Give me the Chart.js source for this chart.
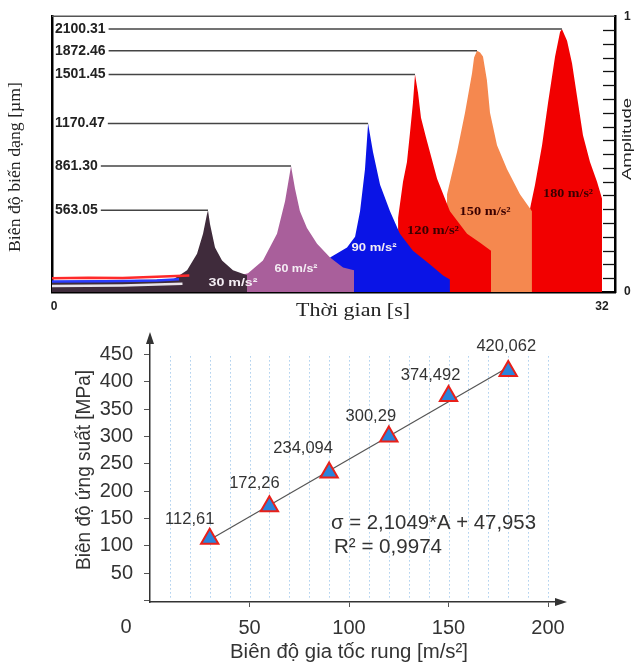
<!DOCTYPE html>
<html><head><meta charset="utf-8">
<script src="https://cdn.jsdelivr.net/npm/chart.js@4.4.1/dist/chart.umd.min.js"></script>
<style>
html,body{margin:0;padding:0;background:#fff;overflow:hidden}
#wrap{position:relative;width:636px;height:664px;background:#fff}
canvas{position:absolute;left:0}
</style>
</head><body>
<div id="wrap">
<canvas id="top" width="636" height="330" style="top:0"></canvas>
<canvas id="bot" width="636" height="346" style="top:318px"></canvas>
</div>
<script>
const peakLabels = ['563.05','861.30','1170.47','1501.45','1872.46','2100.31'];
const peakTimes  = [8.99, 13.84, 18.34, 21.08, 24.7, 29.66];
const peakAmps   = [0.296, 0.457, 0.611, 0.789, 0.875, 0.954];
const regionNames = ['30 m/s²','60 m/s²','90 m/s²','120 m/s²','150 m/s²','180 m/s²'];

const t30 = [-0.12, 6.95, 7.77, 8.35, 8.7, 8.93, 8.99, 9.11, 9.4, 9.81, 10.45, 11.27, 11.27];
const a30 = [0.04, 0.045, 0.079, 0.139, 0.211, 0.282, 0.296, 0.246, 0.161, 0.114, 0.079, 0.061, 0];
const t60 = [10.45, 10.45, 11.33, 12.2, 13.02, 13.49, 13.84, 14.07, 14.36, 14.77, 15.36, 16.12, 16.88, 17.52, 17.52];
const a60 = [0, 0.054, 0.068, 0.114, 0.211, 0.329, 0.457, 0.375, 0.293, 0.232, 0.175, 0.125, 0.089, 0.079, 0];
const t90 = [16.12, 16.12, 17.11, 17.58, 17.87, 18.16, 18.34, 18.63, 19.04, 19.62, 20.2, 20.96, 21.96, 22.72, 23.12, 23.12];
const a90 = [0, 0.125, 0.161, 0.2, 0.293, 0.446, 0.611, 0.507, 0.389, 0.293, 0.211, 0.15, 0.1, 0.06, 0.045, 0];
const t120 = [20.09, 20.09, 20.38, 20.61, 20.79, 20.96, 21.08, 21.26, 21.43, 21.72, 22.37, 23.12, 24.12, 24.88, 25.52, 25.52];
const a120 = [0, 0.268, 0.4, 0.471, 0.579, 0.686, 0.789, 0.721, 0.632, 0.561, 0.411, 0.293, 0.211, 0.179, 0.15, 0];
const t150 = [22.95, 22.95, 23.53, 24.0, 24.41, 24.53, 24.7, 24.88, 25.05, 25.28, 25.46, 25.87, 26.45, 27.21, 27.91, 27.91];
const a150 = [0, 0.354, 0.507, 0.65, 0.793, 0.85, 0.875, 0.868, 0.854, 0.768, 0.65, 0.532, 0.446, 0.354, 0.293, 0];
const t180 = [27.8, 27.8, 28.09, 28.5, 28.85, 29.26, 29.55, 29.66, 29.96, 30.25, 30.54, 30.89, 31.3, 31.71, 32.0, 32.0];
const a180 = [0, 0.304, 0.389, 0.532, 0.686, 0.854, 0.943, 0.954, 0.911, 0.829, 0.711, 0.568, 0.471, 0.4, 0.339, 0];
const tNoiseRed  = [-0.12, 2, 4, 6, 7.9];
const aNoiseRed  = [0.05, 0.052, 0.051, 0.055, 0.06];
const tNoiseBlue = [-0.12, 3, 6, 7.3];
const aNoiseBlue = [0.038, 0.039, 0.042, 0.046];
const tNoiseWhite = [-0.12, 4, 7.5];
const aNoiseWhite = [0.022, 0.024, 0.03];

// ===== BOTTOM PANEL DATA =====
const accel  = [30, 60, 90, 120, 150, 180];
const stress = [112.61, 172.26, 234.094, 300.29, 374.492, 420.062];
const fitSlope = 2.1049, fitIntercept = 47.953, fitR2 = 0.9974;
const trendX = [30, 180];
const xTicksBot = [50, 100, 150, 200];
const yTicksBot = [0, 50, 100, 150, 200, 250, 300, 350, 400, 450];

const pts = (t, a) => t.map((v, i) => ({x: v, y: a[i]}));
const comma = v => String(v).replace('.', ',');

function drawFit(ctx, txt, cx, cy, w, font, color, rot, align) {
  ctx.save();
  ctx.font = font;
  const m = ctx.measureText(txt).width;
  ctx.translate(cx, cy);
  if (rot) ctx.rotate(-Math.PI / 2);
  ctx.scale(w / m, 1);
  ctx.textAlign = align || 'center';
  ctx.textBaseline = 'middle';
  ctx.fillStyle = color;
  ctx.fillText(txt, 0, 0);
  ctx.restore();
}

// ---------- TOP CHART ----------
const regionColors = ['#3f2b3b', '#a95f9b', '#0a14e6', '#f20000', '#f5884f', '#f20000'];
const regionData = [pts(t30,a30), pts(t60,a60), pts(t90,a90), pts(t120,a120), pts(t150,a150), pts(t180,a180)];
const regionLabelPos = [[10.45,0.032],[14.13,0.082],[18.69,0.161],[22.13,0.221],[25.17,0.289],[30.02,0.354]];
const regionLabelW = [49, 43, 45, 52, 51, 50];

const topDeco = {
  id: 'topDeco',
  afterDatasetsDraw(chart) {
    const {ctx, chartArea: a, scales} = chart;
    const x = scales.x, y = scales.y, y2 = scales.y2;
    ctx.save();
    ctx.strokeStyle = '#555'; ctx.lineWidth = 1.5;
    ctx.beginPath(); ctx.moveTo(a.left, a.top); ctx.lineTo(a.right, a.top); ctx.stroke();
    ctx.strokeStyle = '#111'; ctx.lineWidth = 1.3;
    for (let i = 1; i < 20; i++) {
      const py = Math.round(y2.getPixelForValue(i * 0.05)) + 0.5;
      ctx.beginPath(); ctx.moveTo(a.right - 12, py); ctx.lineTo(a.right, py); ctx.stroke();
    }
    ctx.font = 'bold 14px "Liberation Sans", Arial, sans-serif';
    ctx.textBaseline = 'middle'; ctx.textAlign = 'left';
    peakLabels.forEach((lab, i) => {
      const py = y.getPixelForValue(peakAmps[i]);
      const px = x.getPixelForValue(peakTimes[i]);
      const lx = a.left + 3;
      ctx.fillStyle = '#222';
      ctx.fillText(lab, lx, py);
      const w = ctx.measureText(lab).width;
      ctx.strokeStyle = '#444'; ctx.lineWidth = 1.5;
      ctx.beginPath(); ctx.moveTo(lx + w + 3, py); ctx.lineTo(px, py); ctx.stroke();
    });
    regionNames.forEach((nm, i) => {
      const px = x.getPixelForValue(regionLabelPos[i][0]);
      const py = y.getPixelForValue(regionLabelPos[i][1]);
      if (i < 3) drawFit(ctx, nm, px, py, regionLabelW[i], 'bold 11px "Liberation Sans", Arial, sans-serif', '#f4eef4', false);
      else drawFit(ctx, nm, px, py, regionLabelW[i], 'bold 12px "Liberation Serif", "Times New Roman", serif', '#3a0000', false);
    });
    ctx.restore();
  },
  afterDraw(chart) {
    const ctx = chart.ctx;
    drawFit(ctx, 'Biên độ biến dạng [µm]', 16, 167, 170, '17px "Liberation Serif", "Times New Roman", serif', '#222', true);
    drawFit(ctx, 'Thời gian [s]', 353, 311, 114, '19px "Liberation Serif", "Times New Roman", serif', '#222', false);
    drawFit(ctx, 'Amplitude', 628, 139, 82, '12px "Liberation Sans", Arial, sans-serif', '#222', true);
  }
};

const topDatasets = [
  {data: pts(tNoiseRed, aNoiseRed), borderColor: '#ff2a2a', borderWidth: 2.5, fill: false},
  {data: pts(tNoiseBlue, aNoiseBlue), borderColor: '#2a3cff', borderWidth: 2.5, fill: false},
  {data: pts(tNoiseWhite, aNoiseWhite), borderColor: '#e9e4ea', borderWidth: 2.5, fill: false}
].concat(regionData.map((d, i) => ({data: d, backgroundColor: regionColors[i], borderWidth: 0, borderColor: regionColors[i], fill: 'origin'})));

new Chart(document.getElementById('top'), {
  type: 'line',
  data: {datasets: topDatasets},
  options: {
    responsive: false, animation: false, devicePixelRatio: 1,
    layout: {padding: {top: 12, left: 0, right: 0, bottom: 0}},
    plugins: {legend: {display: false}, tooltip: {enabled: false}},
    elements: {point: {radius: 0}, line: {tension: 0}},
    scales: {
      x: {
        type: 'linear', min: -0.12, max: 32.76,
        grid: {display: false, drawTicks: false},
        border: {color: '#000', width: 2.5},
        afterBuildTicks: s => { s.ticks = [{value: 0}, {value: 32}]; },
        ticks: {font: {weight: 'bold', size: 12, family: '"Liberation Sans", Arial'}, color: '#222', padding: 7, maxRotation: 0, autoSkip: false, callback: v => String(v)},
        afterFit: s => { s.height = 38; }
      },
      y: {
        min: 0, max: 1, position: 'left',
        grid: {display: false, drawTicks: false},
        border: {color: '#000', width: 2.5},
        ticks: {display: false},
        afterFit: s => { s.width = 52; }
      },
      y2: {
        min: 0, max: 1, position: 'right',
        grid: {display: false, drawTicks: false},
        border: {color: '#000', width: 2.5},
        afterBuildTicks: s => { s.ticks = [{value: 0}, {value: 1}]; },
        ticks: {padding: 9, font: {weight: 'bold', size: 12, family: '"Liberation Sans", Arial'}, color: '#222', callback: v => String(v)},
        afterFit: s => { s.width = 21; }
      }
    }
  },
  plugins: [topDeco]
});

// ---------- BOTTOM CHART ----------
const labelOffsets = [[-20,-19],[-15,-23],[-26,-24],[-18,-20],[-18,-20],[-2,-25]];

const botDeco = {
  id: 'botDeco',
  beforeDatasetsDraw(chart) {
    const {ctx, scales: {x, y}} = chart;
    ctx.save();
    ctx.strokeStyle = 'rgba(160,200,235,0.9)'; ctx.lineWidth = 1;
    ctx.setLineDash([1.5, 2.5]);
    for (let v = 10; v <= 200; v += 10) {
      const px = Math.round(x.getPixelForValue(v)) + 0.5;
      ctx.beginPath(); ctx.moveTo(px, y.getPixelForValue(5)); ctx.lineTo(px, y.getPixelForValue(452)); ctx.stroke();
    }
    ctx.restore();
  },
  afterDraw(chart) {
    const {ctx, chartArea: a, scales: {x, y}} = chart;
    ctx.save();
    const ax = x.getPixelForValue(0);
    ctx.fillStyle = '#333'; ctx.strokeStyle = '#333'; ctx.lineWidth = 1.5;
    ctx.beginPath(); ctx.moveTo(a.left, a.top); ctx.lineTo(a.left, a.top - 6); ctx.stroke();
    ctx.beginPath(); ctx.moveTo(a.left, a.top - 9); ctx.lineTo(a.left - 4, a.top + 3); ctx.lineTo(a.left + 4, a.top + 3); ctx.closePath(); ctx.fill();
    const by = a.bottom;
    ctx.beginPath(); ctx.moveTo(a.right, by); ctx.lineTo(a.right + 6, by); ctx.stroke();
    ctx.beginPath(); ctx.moveTo(a.right + 11, by); ctx.lineTo(a.right - 1, by - 4); ctx.lineTo(a.right - 1, by + 4); ctx.closePath(); ctx.fill();
    ctx.font = '20px "Liberation Sans", Arial, sans-serif';
    ctx.fillStyle = '#333'; ctx.textAlign = 'center'; ctx.textBaseline = 'middle';
    ctx.fillText('0', ax - 24, 309);
    ctx.font = '16.5px "Liberation Sans", Arial, sans-serif';
    stress.forEach((v, i) => {
      const px = x.getPixelForValue(accel[i]), py = y.getPixelForValue(v);
      ctx.fillText(comma(v), px + labelOffsets[i][0], py + labelOffsets[i][1]);
    });
    ctx.restore();
    const eq = 'σ = ' + comma(fitSlope) + '*A + ' + comma(fitIntercept);
    drawFit(ctx, eq, 331, 205, 205, '20px "Liberation Sans", Arial, sans-serif', '#333', false, 'left');
    drawFit(ctx, 'R² = ' + comma(fitR2), 334, 229, 108, '20px "Liberation Sans", Arial, sans-serif', '#333', false, 'left');
    drawFit(ctx, 'Biên độ ứng suất [MPa]', 84, 152, 200, '20px "Liberation Sans", Arial, sans-serif', '#333', true);
    drawFit(ctx, 'Biên độ gia tốc rung [m/s²]', 349, 334, 238, '20px "Liberation Sans", Arial, sans-serif', '#333', false);
  }
};

new Chart(document.getElementById('bot'), {
  type: 'scatter',
  data: {datasets: [
    {data: accel.map((a, i) => ({x: a, y: stress[i]})), pointStyle: 'triangle', pointRadius: 10,
     pointBackgroundColor: '#2a84dc', pointBorderColor: '#e8201a', pointBorderWidth: 2, showLine: false},
    {type: 'line', data: trendX.map(a => ({x: a, y: fitSlope * a + fitIntercept})), borderColor: '#555',
     borderWidth: 1.2, pointRadius: 0, fill: false}
  ]},
  options: {
    responsive: false, animation: false, devicePixelRatio: 1,
    layout: {padding: {top: 21, right: 80, left: 0, bottom: 0}},
    plugins: {legend: {display: false}, tooltip: {enabled: false}},
    scales: {
      x: {
        type: 'linear', min: 0, max: 204,
        afterBuildTicks: s => { s.ticks = xTicksBot.map(v => ({value: v})); },
        ticks: {font: {size: 20, family: '"Liberation Sans", Arial'}, color: '#333', padding: 9, maxRotation: 0, autoSkip: false, callback: v => String(v)},
        grid: {drawOnChartArea: false, tickLength: 5, color: '#555'},
        border: {color: '#333', width: 1.5},
        afterFit: s => { s.height = 62; }
      },
      y: {
        min: -3, max: 475,
        afterBuildTicks: s => { s.ticks = yTicksBot.map(v => ({value: v})); },
        ticks: {font: {size: 20, family: '"Liberation Sans", Arial'}, color: '#333', padding: 11, autoSkip: false, callback: v => v === 0 ? '' : String(v)},
        grid: {drawOnChartArea: false, tickLength: 6, color: '#555'},
        border: {color: '#333', width: 1.5},
        afterFit: s => { s.width = 150; }
      }
    }
  },
  plugins: [botDeco]
});
</script>
</body></html>
